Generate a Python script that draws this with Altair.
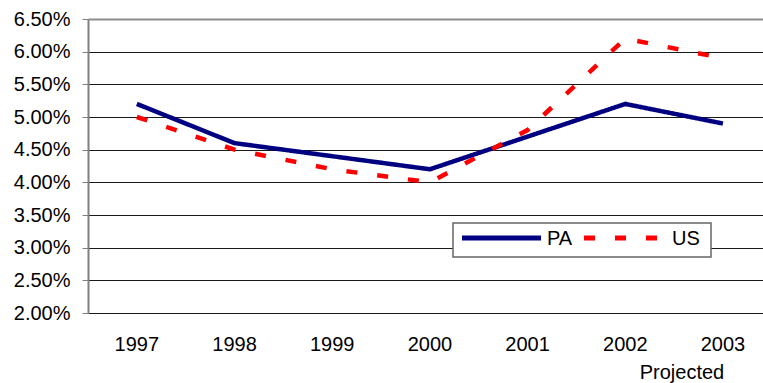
import altair as alt
import pandas as pd

# Annual rates, Pennsylvania vs. United States (2003 is a projection)
years = [1997, 1998, 1999, 2000, 2001, 2002, 2003]
pa_rate = [0.052, 0.046, 0.044, 0.042, 0.047, 0.052, 0.049]
us_rate = [0.050, 0.045, 0.042, 0.040, 0.048, 0.062, 0.059]
series_names = ["PA", "US"]
series_colors = ["#000080", "#ff0000"]
series_dashes = [[1, 0], [11, 20]]
year_labels = ["1997", "1998", "1999", "2000", "2001", "2002", "2003"]
year_notes = ["", "", "", "", "", "", "Projected"]
y_ticks = [0.020, 0.025, 0.030, 0.035, 0.040, 0.045, 0.050, 0.055, 0.060, 0.065]
category_edges = [1996.5, 1997.5, 1998.5, 1999.5, 2000.5, 2001.5, 2002.5]

rows = []
for name, values in zip(series_names, [pa_rate, us_rate]):
    for yr, v in zip(years, values):
        rows.append({"year": yr, "rate": v, "series": name})
df = pd.DataFrame(rows)

labels_df = pd.DataFrame({"year": years, "label": year_labels, "note": year_notes})
legend_df = pd.DataFrame({"series": series_names})

W, H = 675, 294
FONT = "Liberation Sans"

x_scale = alt.Scale(domain=[1996.5, 2003.41], nice=False, zero=False)
y_scale = alt.Scale(domain=[0.02, 0.065], nice=False, zero=False)

lines = alt.Chart(df).mark_line(strokeWidth=4.5).encode(
    x=alt.X(
        "year:Q",
        scale=x_scale,
        axis=alt.Axis(
            values=category_edges,
            labels=False,
            title=None,
            grid=False,
            tickSize=6,
            tickColor="#808080",
            tickWidth=1,
            domainColor="#808080",
            domainWidth=2,
        ),
    ),
    y=alt.Y(
        "rate:Q",
        scale=y_scale,
        axis=alt.Axis(
            values=y_ticks,
            format=".2%",
            title=None,
            grid=True,
            gridColor=alt.condition("datum.value > 0.0649", alt.value("#8c8c8c"), alt.value("#1a1a1a")),
            gridWidth=alt.condition("datum.value > 0.0649", alt.value(2), alt.value(1)),
            tickSize=6,
            tickColor="#808080",
            domainColor="#808080",
            domainWidth=2,
            labelPadding=12,
            labelFontSize=20,
            labelFont=FONT,
            labelColor="black",
        ),
    ),
    color=alt.Color(
        "series:N",
        scale=alt.Scale(domain=series_names, range=series_colors),
        legend=None,
    ),
    strokeDash=alt.StrokeDash(
        "series:N",
        scale=alt.Scale(domain=series_names, range=series_dashes),
        legend=None,
    ),
)

year_text = alt.Chart(labels_df).mark_text(
    fontSize=20, font=FONT, color="black", baseline="alphabetic"
).encode(
    x=alt.X("year:Q", scale=x_scale, axis=None),
    y=alt.value(H + 38),
    text="label:N",
)

note_text = alt.Chart(labels_df).mark_text(
    fontSize=20, font=FONT, color="black", baseline="alphabetic", dx=-41
).encode(
    x=alt.X("year:Q", scale=x_scale, axis=None),
    y=alt.value(H + 66),
    text="note:N",
)

# Boxed legend inside the plot, entries side by side
legend_box = alt.Chart(legend_df.head(1)).mark_rect(
    fill="white", stroke="#666666", strokeWidth=1.5
).encode(
    x=alt.value(365), x2=alt.value(623), y=alt.value(204), y2=alt.value(238)
)

legend_layers = [legend_box]
sample_x = [(374, 453), (496, 569)]
label_x = [459, 584]
for name, color, dash, (x0, x1), lx in zip(series_names, series_colors, series_dashes, sample_x, label_x):
    entry = alt.Chart(legend_df).transform_filter(alt.datum.series == name)
    legend_layers.append(
        entry.mark_rule(color=color, strokeWidth=5, strokeDash=dash).encode(
            x=alt.value(x0), x2=alt.value(x1), y=alt.value(219)
        )
    )
    legend_layers.append(
        entry.mark_text(fontSize=20, font=FONT, color="black", align="left", baseline="middle").encode(
            x=alt.value(lx), y=alt.value(220), text="series:N"
        )
    )

chart = (
    alt.layer(lines, year_text, note_text, *legend_layers)
    .properties(
        width=W,
        height=H,
        autosize=alt.AutoSizeParams(type="none"),
        padding={"left": 88, "top": 19, "right": 0, "bottom": 70},
    )
    .configure_view(stroke=None)
    .configure(font=FONT, background="white")
)

chart.save("out.html", embed_options={"renderer": "svg", "actions": False})
